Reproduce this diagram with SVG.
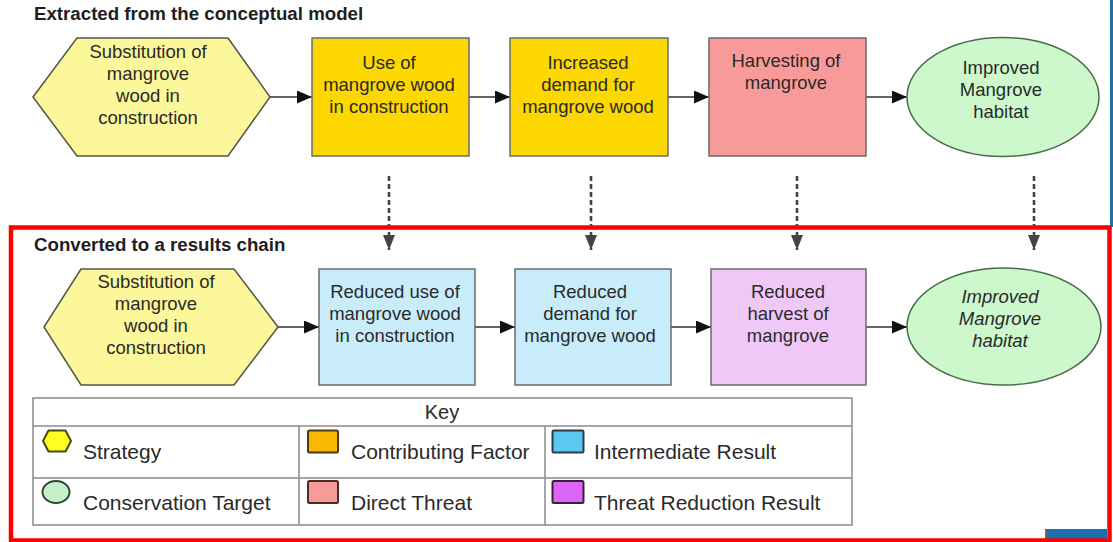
<svg xmlns="http://www.w3.org/2000/svg" width="1113" height="542" viewBox="0 0 1113 542">
  <defs>
    <style>
      .t { font-family: "Liberation Sans", Arial, sans-serif; font-size: 18.5px; fill: #2a2a2a; text-anchor: middle; }
      .it { font-style: italic; }
      .h { font-family: "Liberation Sans", Arial, sans-serif; font-size: 18.7px; font-weight: bold; fill: #1e1e1e; }
      .k { font-family: "Liberation Sans", Arial, sans-serif; font-size: 21px; fill: #2a2a2a; }
      .kh { text-anchor: middle; font-size: 20px; }
      .hex { fill: #fbf79a; stroke: #555544; stroke-width: 1.5; }
      .cf { fill: #fdd700; stroke: #6b6b6b; stroke-width: 1.5; }
      .dt { fill: #f99a9a; stroke: #6b6b6b; stroke-width: 1.5; }
      .ct { fill: #ccf8cc; stroke: #4a6a4a; stroke-width: 1.5; }
      .ir { fill: #c8ecfa; stroke: #6b6b6b; stroke-width: 1.5; }
      .tr { fill: #efc8f8; stroke: #6b6b6b; stroke-width: 1.5; }
      .flow { stroke: #333; stroke-width: 1.6; fill: none; marker-end: url(#solid); }
      .map { stroke: #444; stroke-width: 2.6; stroke-dasharray: 5 3; fill: none; marker-end: url(#drop); }
      .grid { stroke: #8a8a8a; stroke-width: 1.5; fill: none; }
    </style>
    <marker id="solid" markerUnits="userSpaceOnUse" markerWidth="15" markerHeight="13" refX="15" refY="6.5" orient="auto">
      <path d="M0,0 L15,6.5 L0,13 z" fill="#111"/>
    </marker>
    <marker id="drop" markerUnits="userSpaceOnUse" markerWidth="15" markerHeight="13" refX="15" refY="6.5" orient="auto">
      <path d="M0,0.5 L15,6.5 L0,12.5 z" fill="#444"/>
    </marker>
  </defs>

  <rect width="1113" height="542" fill="#ffffff"/>

  <!-- page accents -->
  <rect x="1110" y="0" width="3" height="227" fill="#1f6fad"/>
  <rect x="1045" y="529" width="62" height="11" fill="#1a70ae"/>
  <rect x="1045" y="529" width="2" height="11" fill="#666666"/>

  <!-- section headings -->
  <text class="h" x="34" y="20">Extracted from the conceptual model</text>
  <text class="h" x="34" y="251">Converted to a results chain</text>

  <!-- connectors -->
  <g id="connectors">
    <line class="flow" x1="270" y1="97" x2="312" y2="97"/>
    <line class="flow" x1="469" y1="97" x2="510" y2="97"/>
    <line class="flow" x1="668" y1="97" x2="709" y2="97"/>
    <line class="flow" x1="866" y1="97" x2="907" y2="97"/>

    <line class="flow" x1="278" y1="327" x2="319" y2="327"/>
    <line class="flow" x1="475" y1="327" x2="515" y2="327"/>
    <line class="flow" x1="671" y1="327" x2="711" y2="327"/>
    <line class="flow" x1="866" y1="327" x2="907" y2="327"/>

    <line class="map" x1="389" y1="176" x2="389" y2="250"/>
    <line class="map" x1="591" y1="176" x2="591" y2="250"/>
    <line class="map" x1="797" y1="176" x2="797" y2="250"/>
    <line class="map" x1="1034" y1="176" x2="1034" y2="250"/>
  </g>

  <!-- conceptual model row -->
  <g id="strategy-top">
    <polygon class="hex" points="33,97 77,38 228,38 270,97 228,156 77,156"/>
    <text class="t" x="148" y="58">Substitution of</text>
    <text class="t" x="148" y="80">mangrove</text>
    <text class="t" x="148" y="102">wood in</text>
    <text class="t" x="148" y="124">construction</text>
  </g>
  <g id="factor-use">
    <rect class="cf" x="312" y="38" width="157" height="118"/>
    <text class="t" x="389" y="69">Use of</text>
    <text class="t" x="389" y="91">mangrove wood</text>
    <text class="t" x="389" y="113">in construction</text>
  </g>
  <g id="factor-demand">
    <rect class="cf" x="510" y="38" width="158" height="118"/>
    <text class="t" x="588" y="69">Increased</text>
    <text class="t" x="588" y="91">demand for</text>
    <text class="t" x="588" y="113">mangrove wood</text>
  </g>
  <g id="threat-harvest">
    <rect class="dt" x="709" y="38" width="157" height="118"/>
    <text class="t" x="786" y="67">Harvesting of</text>
    <text class="t" x="786" y="89">mangrove</text>
  </g>
  <g id="target-top">
    <ellipse class="ct" cx="1003" cy="97" rx="96" ry="59.5"/>
    <text class="t" x="1001" y="74">Improved</text>
    <text class="t" x="1001" y="96">Mangrove</text>
    <text class="t" x="1001" y="118">habitat</text>
  </g>

  <!-- results chain row -->
  <g id="strategy-chain">
    <polygon class="hex" points="44,327 81,269 234,269 278,327 234,385 81,385"/>
    <text class="t" x="156" y="288">Substitution of</text>
    <text class="t" x="156" y="310">mangrove</text>
    <text class="t" x="156" y="332">wood in</text>
    <text class="t" x="156" y="354">construction</text>
  </g>
  <g id="result-use">
    <rect class="ir" x="319" y="269" width="156" height="116"/>
    <text class="t" x="395" y="298">Reduced use of</text>
    <text class="t" x="395" y="320">mangrove wood</text>
    <text class="t" x="395" y="342">in construction</text>
  </g>
  <g id="result-demand">
    <rect class="ir" x="515" y="269" width="156" height="116"/>
    <text class="t" x="590" y="298">Reduced</text>
    <text class="t" x="590" y="320">demand for</text>
    <text class="t" x="590" y="342">mangrove wood</text>
  </g>
  <g id="result-harvest">
    <rect class="tr" x="711" y="269" width="155" height="116"/>
    <text class="t" x="788" y="298">Reduced</text>
    <text class="t" x="788" y="320">harvest of</text>
    <text class="t" x="788" y="342">mangrove</text>
  </g>
  <g id="target-chain">
    <ellipse class="ct" cx="1004" cy="326.5" rx="97" ry="58.5"/>
    <text class="t it" x="1000" y="303">Improved</text>
    <text class="t it" x="1000" y="325">Mangrove</text>
    <text class="t it" x="1000" y="347">habitat</text>
  </g>

  <!-- key -->
  <g id="key">
    <rect class="grid" x="33" y="398" width="819" height="127" fill="#ffffff"/>
    <line class="grid" x1="33" y1="426" x2="852" y2="426"/>
    <line class="grid" x1="33" y1="478" x2="852" y2="478"/>
    <line class="grid" x1="299" y1="426" x2="299" y2="525"/>
    <line class="grid" x1="545" y1="426" x2="545" y2="525"/>
    <text class="k kh" x="442" y="419">Key</text>

    <polygon points="43,441 48.5,430.5 65.5,430.5 71,441 65.5,451.5 48.5,451.5" fill="#ffff22" stroke="#4a4a10" stroke-width="2" stroke-linejoin="round"/>
    <text class="k" x="83" y="459">Strategy</text>

    <rect x="308" y="430.5" width="30" height="22" rx="1.5" fill="#fbb800" stroke="#4a3a10" stroke-width="2"/>
    <text class="k" x="351" y="459">Contributing Factor</text>

    <rect x="552.5" y="430.5" width="31" height="22" rx="1.5" fill="#5bc8f2" stroke="#2a3a4a" stroke-width="2"/>
    <text class="k" x="594" y="459">Intermediate Result</text>

    <ellipse cx="56" cy="492" rx="13.5" ry="11" fill="#c8f0c8" stroke="#2f4a2f" stroke-width="2"/>
    <text class="k" x="83" y="510">Conservation Target</text>

    <rect x="308" y="481" width="30" height="22" rx="1.5" fill="#f99a9a" stroke="#4a2a2a" stroke-width="2"/>
    <text class="k" x="351" y="510">Direct Threat</text>

    <rect x="552.5" y="481" width="31" height="22" rx="1.5" fill="#dc66f8" stroke="#3a2040" stroke-width="2"/>
    <text class="k" x="594" y="510">Threat Reduction Result</text>
  </g>

  <!-- highlight frame around the results chain -->
  <rect x="11" y="227.5" width="1098.5" height="313" fill="none" stroke="#ff0000" stroke-width="4.5"/>
</svg>
